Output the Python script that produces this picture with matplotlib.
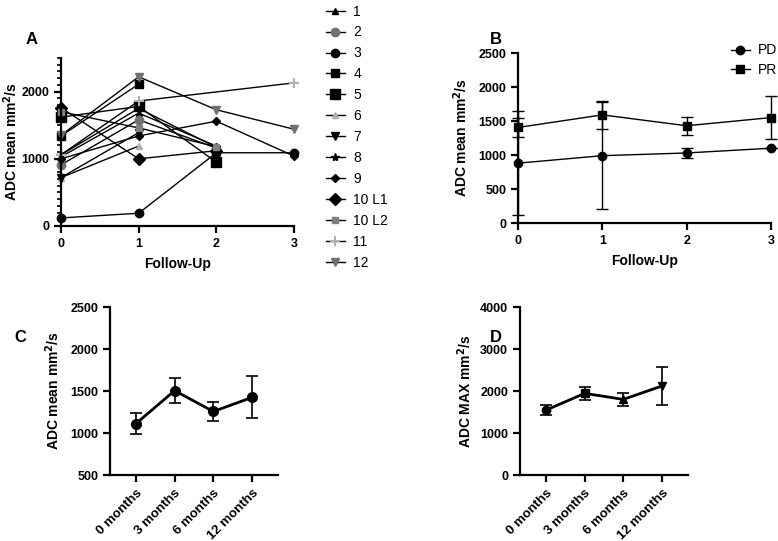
import numpy as np
import matplotlib
matplotlib.use("Agg")
import matplotlib.pyplot as plt
from matplotlib.lines import Line2D

plt.rcParams['font.family'] = ['Liberation Sans', 'DejaVu Sans']
plt.rcParams['font.weight'] = 'bold'

nan = np.nan

# panel A: individual patients
follow_up = [0, 1, 2, 3]
patient_names = ['1', '2', '3', '4', '5', '6', '7', '8', '9', '10 L1', '10 L2', '11', '12']
patient_values = [
    [1030, 1680, 1190, nan],
    [910, 1580, 1160, nan],
    [120, 190, 1090, 1090],
    [1340, 2110, nan, nan],
    [1620, 1780, 950, nan],
    [720, 1190, nan, nan],
    [720, 1390, nan, nan],
    [1060, 1750, 1170, nan],
    [1000, 1340, 1560, 1040],
    [1760, 1000, 1120, nan],
    [1700, 1460, 1180, nan],
    [1060, 1860, nan, 2130],
    [1350, 2220, 1730, 1440],
]
patient_markers = ['^', 'o', 'o', 's', 's', '^', 'v', '*', 'D', 'D', 's', '+', 'v']
patient_sizes = [5, 6, 6, 6, 7, 5, 6, 6, 4, 6, 5, 7, 6]
patient_colors = ['black', '#707070', 'black', 'black', 'black', '#b0b0b0', 'black',
                  'black', 'black', 'black', '#808080', '#b0b0b0', '#707070']

# panel B: PD / PR groups
pd_mean = [880, 990, 1030, 1100]
pd_err = [765, 790, 75, 0]
pr_mean = [1405, 1590, 1430, 1550]
pr_err = [140, 210, 135, 315]

# panels C and D
months = ['0 months', '3 months', '6 months', '12 months']
adc_mean = [1112, 1504, 1256, 1424]
adc_mean_err = [125, 145, 108, 250]
adc_max = [1544, 1944, 1800, 2120]
adc_max_err = [115, 150, 155, 450]
max_markers = ['o', 's', '^', 'v']

W, H = 778, 541
fig = plt.figure(figsize=(W / 100, H / 100), dpi=100)


def box(l, t, r, b):
    return [l / W, 1 - b / H, (r - l) / W, (b - t) / H]


def style(ax):
    for s in ['top', 'right']:
        ax.spines[s].set_visible(False)
    for s in ['left', 'bottom']:
        ax.spines[s].set_linewidth(1.6)
    ax.tick_params(width=1.6, length=5, labelsize=9)
    for lab in ax.get_xticklabels() + ax.get_yticklabels():
        lab.set_fontweight('bold')


# ---- A
axA = fig.add_axes(box(61, 58, 294, 226))
handles = []
for name, vals, m, ms, c in zip(patient_names, patient_values, patient_markers, patient_sizes, patient_colors):
    v = np.array(vals, dtype=float)
    ok = ~np.isnan(v)
    x = np.array(follow_up)[ok]
    h, = axA.plot(x, v[ok], color='black', lw=1, marker=m, ms=ms,
                  mfc=c, mec=c, mew=1.5 if m == '+' else 1, label=name, clip_on=False)
    handles.append(h)
axA.set_xlim(0, 3)
axA.set_ylim(0, 2500)
axA.set_xticks(follow_up)
axA.set_yticks([0, 1000, 2000])
axA.set_yticks(np.arange(0, 2501, 100), minor=True)
axA.tick_params(which='minor', length=3, width=1.2)
axA.set_xlabel('Follow-Up', fontsize=10, fontweight='bold')
axA.set_ylabel('ADC mean mm$^\\mathbf{2}$/s', fontsize=10, fontweight='bold')
axA.yaxis.set_label_coords(-0.178, 0.5)
axA.xaxis.set_label_coords(0.5, -0.185)
style(axA)
fig.legend(handles=handles, loc='upper left', bbox_to_anchor=(313 / W, 1 + 8 / H), frameon=False,
           labelspacing=0.5, handlelength=1.4, handletextpad=0.6,
           prop={'weight': 'normal', 'size': 10})

# ---- B
axB = fig.add_axes(box(518, 53, 771, 223))
axB.errorbar(follow_up, pd_mean, yerr=pd_err, color='black', marker='o', ms=6, lw=1,
             capsize=4, elinewidth=1, clip_on=False)
axB.errorbar(follow_up, pr_mean, yerr=pr_err, color='black', marker='s', ms=6, lw=1,
             capsize=4, elinewidth=1, clip_on=False)
axB.set_xlim(0, 3)
axB.set_ylim(0, 2500)
axB.set_xticks(follow_up)
axB.set_yticks(np.arange(0, 2501, 500))
axB.set_xlabel('Follow-Up', fontsize=10, fontweight='bold')
axB.set_ylabel('ADC mean mm$^\\mathbf{2}$/s', fontsize=10, fontweight='bold')
axB.yaxis.set_label_coords(-0.19, 0.5)
axB.xaxis.set_label_coords(0.5, -0.182)
style(axB)
b_handles = [Line2D([], [], color='black', lw=1, marker='o', ms=6),
             Line2D([], [], color='black', lw=1, marker='s', ms=6)]
axB.legend(b_handles, ['PD', 'PR'], loc='upper left', bbox_to_anchor=(718 / W, 1 - 31 / H),
           bbox_transform=fig.transFigure, frameon=False, handlelength=1.4, handletextpad=0.6,
           labelspacing=0.4, prop={'weight': 'normal', 'size': 10})

# ---- C
xc = np.arange(len(months))
axC = fig.add_axes(box(110, 307, 278, 475))
axC.errorbar(xc, adc_mean, yerr=adc_mean_err, color='black', marker='o', ms=7, lw=2,
             capsize=4, elinewidth=1.2, capthick=1.2)
axC.set_xlim(-0.67, 3.67)
axC.set_ylim(500, 2500)
axC.set_xticks(xc)
axC.set_xticklabels(months, rotation=45, ha='right', rotation_mode='anchor')
axC.set_yticks(np.arange(500, 2501, 500))
axC.set_ylabel('ADC mean mm$^\\mathbf{2}$/s', fontsize=10, fontweight='bold')
axC.yaxis.set_label_coords(-0.286, 0.5)
style(axC)
axC.tick_params(axis='x', labelsize=9.5)

# ---- D
axD = fig.add_axes(box(520, 307, 688, 475))
axD.plot(xc, adc_max, color='black', lw=2)
for xi, yi, ei, m in zip(xc, adc_max, adc_max_err, max_markers):
    axD.errorbar([xi], [yi], yerr=[ei], color='black', marker=m, ms=6,
                 capsize=4, elinewidth=1.2, capthick=1.2)
axD.set_xlim(-0.67, 3.67)
axD.set_ylim(0, 4000)
axD.set_xticks(xc)
axD.set_xticklabels(months, rotation=45, ha='right', rotation_mode='anchor')
axD.set_yticks(np.arange(0, 4001, 1000))
axD.set_ylabel('ADC MAX mm$^\\mathbf{2}$/s', fontsize=10, fontweight='bold')
axD.yaxis.set_label_coords(-0.274, 0.5)
style(axD)
axD.tick_params(axis='x', labelsize=9.5)

for letter, x, y in [('A', 26, 40), ('B', 490, 40), ('C', 14, 337), ('D', 490, 337)]:
    fig.text(x / W, 1 - y / H, letter, fontsize=12, fontweight='bold', ha='left', va='center')

fig.savefig('out.png', dpi=100)
